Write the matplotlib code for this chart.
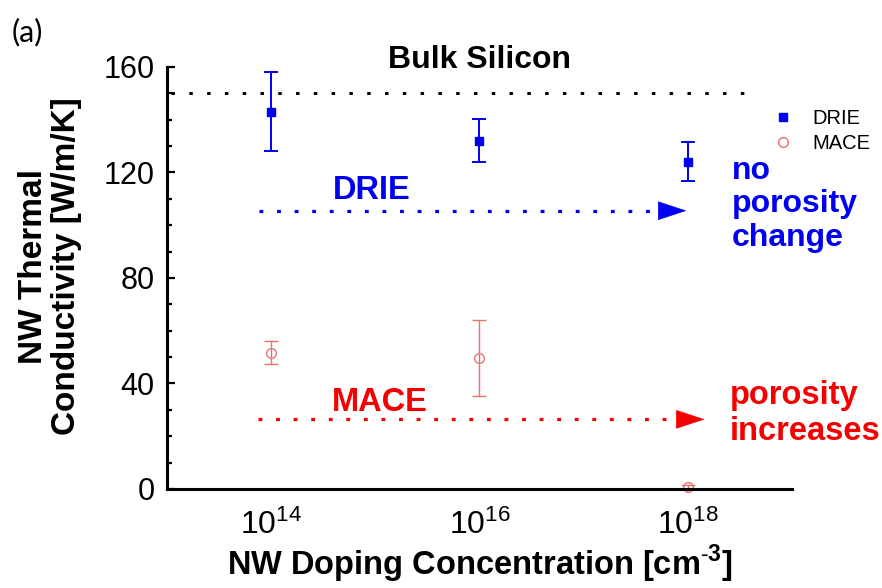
import matplotlib
matplotlib.use('Agg')
import matplotlib.pyplot as plt
from matplotlib.ticker import FixedLocator, FixedFormatter, MultipleLocator, NullLocator

plt.rcParams['font.family'] = ['Liberation Sans', 'DejaVu Sans']
plt.rcParams['mathtext.fontset'] = 'custom'
plt.rcParams['mathtext.rm'] = 'Liberation Sans'
plt.rcParams['mathtext.bf'] = 'Liberation Sans:bold'

# data
doping = [1e14, 1e16, 1e18]
drie_k = [143.0, 132.0, 124.0]
drie_err = [15.0, 8.2, 7.4]
mace_k = [51.7, 49.6, 0.8]
mace_err = [4.5, 14.4, 0.8]
bulk_si = 150
x_ticks = [1e14, 1e16, 1e18]
x_labels = ['$\\mathregular{10^{14}}$', '$\\mathregular{10^{16}}$', '$\\mathregular{10^{18}}$']

# guide arrows (start, head start, tip, level)
drie_arrow = (7.7e13, 5.3e17, 9.7e17, 105.5)
mace_arrow = (7.5e13, 8.0e17, 1.45e18, 26.4)

blue = '#0000f0'
red = '#f50000'
mace_col = '#ee6f6f'

fig = plt.figure(figsize=(8.82, 5.88), dpi=100)
ax = fig.add_axes([0.1893, 0.1684, 0.7086, 0.7177])

ax.set_xscale('log')
ax.set_xlim(1e13, 1e19)
ax.set_ylim(0, 160)

# bulk line
ax.plot([1.1e13, 4.2e18], [bulk_si, bulk_si], color='black', lw=2.1, dashes=(1.2, 4.9), clip_on=False)

# error bars
ax.errorbar(doping, drie_k, yerr=drie_err, fmt='none', ecolor=blue, elinewidth=1.4, capsize=5, capthick=1.4)
ax.errorbar(doping, mace_k, yerr=mace_err, fmt='none', ecolor=mace_col, elinewidth=1.0, capsize=5, capthick=1.0)
ax.plot(doping, drie_k, 's', color=blue, ms=6, label='DRIE', clip_on=False)
ax.plot(doping, mace_k, 'o', mfc='none', mec=mace_col, mew=1.0, ms=7, label='MACE', clip_on=False)

# guide arrows
for (x0, x1, x2, yv), col in [(drie_arrow, blue), (mace_arrow, red)]:
    ax.plot([x0, x1], [yv, yv], color=col, lw=2.3, dashes=(1.2, 4.3))
    ax.annotate('', xy=(x2, yv), xytext=(x1, yv),
                arrowprops=dict(arrowstyle='-|>,head_length=0.97,head_width=0.32',
                                color=col, lw=0.5, shrinkA=0, shrinkB=0, mutation_scale=20))

ax.text(0.5008, 0.998, 'Bulk Silicon', transform=ax.transAxes, ha='center', va='baseline',
        fontsize=23, fontweight='bold')
ax.text(0.328, 0.687, 'DRIE', transform=ax.transAxes, ha='center', va='baseline',
        fontsize=23.5, fontweight='bold', color=blue)
ax.text(0.34, 0.185, 'MACE', transform=ax.transAxes, ha='center', va='baseline',
        fontsize=23.5, fontweight='bold', color=red)
ax.text(0.904, 0.675, 'no\nporosity\nchange', transform=ax.transAxes, ha='left', va='center',
        fontsize=23, fontweight='bold', color=blue, clip_on=False, linespacing=1.15)
ax.text(0.901, 0.178, 'porosity\nincreases', transform=ax.transAxes, ha='left', va='center',
        fontsize=23.5, fontweight='bold', color=red, clip_on=False, linespacing=1.2)

leg = ax.legend(loc='upper left', bbox_to_anchor=(0.957, 0.92), frameon=False, fontsize=14.5,
                handlelength=1.0, handletextpad=0.95, labelspacing=0.3, borderaxespad=0)

# axes styling
for s in ['top', 'right']:
    ax.spines[s].set_visible(False)
for s in ['left', 'bottom']:
    ax.spines[s].set_linewidth(2.2)

ax.yaxis.set_major_locator(MultipleLocator(40))
ax.yaxis.set_minor_locator(MultipleLocator(10))
ax.tick_params(axis='y', which='major', direction='in', length=6, width=1.6, labelsize=22, pad=9)
ax.tick_params(axis='y', which='minor', direction='in', length=3.8, width=1.6)
ax.xaxis.set_major_locator(FixedLocator(x_ticks))
ax.xaxis.set_major_formatter(FixedFormatter(x_labels))
ax.xaxis.set_minor_locator(NullLocator())
ax.tick_params(axis='x', which='both', length=0, labelsize=23, pad=15)

ax.set_ylabel('NW Thermal\nConductivity [W/m/K]', fontsize=24, fontweight='bold', linespacing=1.1)
ax.yaxis.set_label_coords(-0.136, 0.528)
ax.set_xlabel('NW Doping Concentration [cm$^{\\mathbf{\\text{-}3}}$]', fontsize=23.5, fontweight='bold',
              labelpad=1)

fig.text(0.013, 0.93, '(a)', fontsize=22, family=['Lato', 'DejaVu Sans'])

fig.savefig('out.png', dpi=100)
